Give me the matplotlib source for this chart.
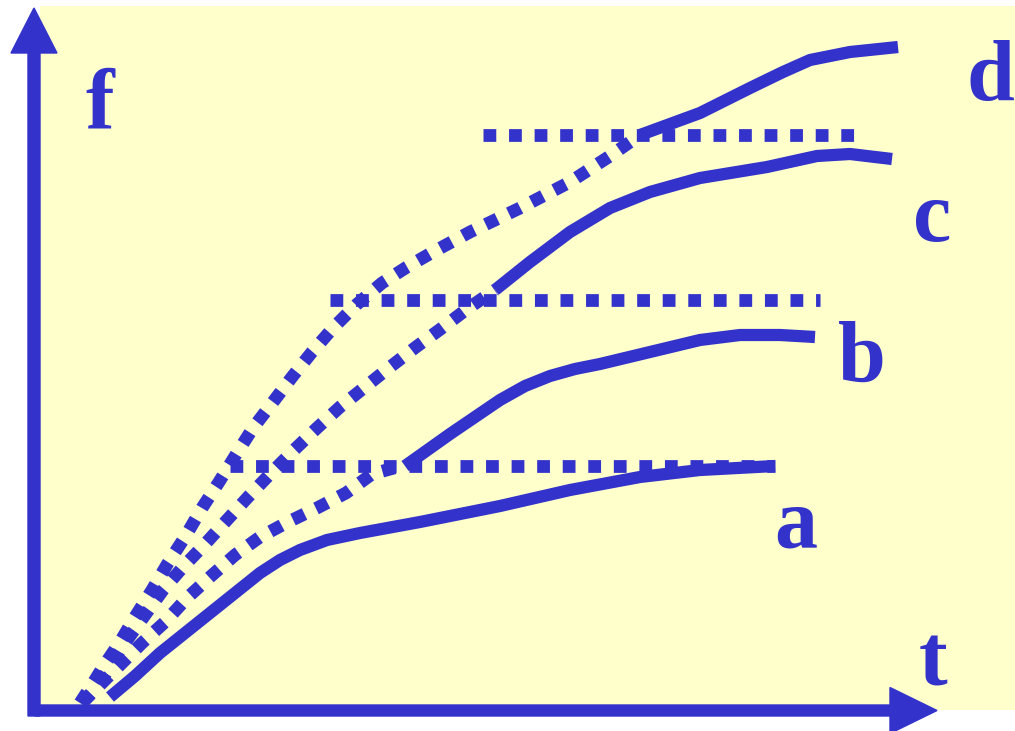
import numpy as np
import matplotlib
matplotlib.use('Agg')
import matplotlib.pyplot as plt
from matplotlib.patches import Rectangle

# colours
BLUE = '#3333CC'
YELLOW = '#FFFFCC'

# dotted rising curves (t, f), they turn into the solid curves b, c, d
rise_b_t = [0.48, 0.81, 1.08, 1.31, 1.53, 1.76, 2.01, 2.26, 2.54, 2.83, 3.12, 3.38, 3.71]
rise_b_f = [0.07, 0.40, 0.67, 0.88, 1.12, 1.33, 1.55, 1.73, 1.88, 2.02, 2.17, 2.36, 2.45]

rise_c_t = [0.48, 0.66, 0.86, 1.06, 1.29, 1.49, 1.72, 1.93, 2.15, 2.38, 2.60, 2.83, 3.06, 3.31, 3.56, 3.82, 4.08, 4.33, 4.61]
rise_c_f = [0.07, 0.27, 0.60, 0.88, 1.20, 1.43, 1.67, 1.90, 2.14, 2.38, 2.60, 2.82, 3.03, 3.23, 3.43, 3.63, 3.82, 4.01, 4.20]

rise_d_t = [0.46, 0.61, 0.69, 0.86, 1.01, 1.18, 1.34, 1.51, 1.68, 1.85, 2.03, 2.19, 2.39, 2.58, 2.78, 2.99,
            3.22, 3.48, 3.73, 3.99, 4.36, 4.86, 5.36, 5.76, 6.06]
rise_d_f = [0.07, 0.30, 0.43, 0.68, 0.93, 1.20, 1.47, 1.73, 2.02, 2.28, 2.57, 2.82, 3.08, 3.33, 3.58, 3.82,
            4.05, 4.27, 4.43, 4.58, 4.78, 5.02, 5.28, 5.54, 5.75]

# solid curves
a_t = [0.76, 1.01, 1.26, 1.51, 1.76, 2.01, 2.26, 2.46, 2.66, 2.93, 3.26, 3.86, 4.66, 5.36, 6.06, 6.66, 7.41]
a_f = [0.13, 0.34, 0.57, 0.77, 0.97, 1.17, 1.37, 1.50, 1.60, 1.70, 1.77, 1.88, 2.04, 2.20, 2.33, 2.40, 2.44]

b_t = [3.71, 4.16, 4.66, 4.91, 5.16, 5.41, 5.66, 6.16, 6.66, 7.06, 7.46, 7.81]
b_f = [2.44, 2.76, 3.10, 3.24, 3.34, 3.41, 3.46, 3.58, 3.70, 3.75, 3.75, 3.73]

c_t = [4.61, 4.96, 5.36, 5.76, 6.16, 6.66, 7.33, 7.83, 8.16, 8.58]
c_f = [4.20, 4.48, 4.78, 5.02, 5.18, 5.32, 5.43, 5.54, 5.56, 5.51]

d_t = [6.06, 6.66, 7.16, 7.49, 7.76, 8.16, 8.64]
d_f = [5.75, 5.97, 6.22, 6.38, 6.50, 6.58, 6.63]

# horizontal dotted levels
level_f = [2.44, 4.10, 5.75]
level_start = [1.96, 2.96, 4.49]
level_end = [7.41, 7.86, 8.21]

# labels
labels = ['f', 'd', 'c', 'b', 'a', 't']
label_t = [0.66, 9.56, 8.98, 8.28, 7.62, 8.99]
label_f = [5.82, 6.10, 4.69, 3.29, 1.62, 0.25]

fig = plt.figure(figsize=(10.15, 7.31), dpi=100)
ax = fig.add_axes([0, 0, 1, 1])
ax.set_xlim(-0.34, 9.81)
ax.set_ylim(-0.21, 7.10)
ax.axis('off')

# yellow panel
ax.add_patch(Rectangle((0.06, 0.0), 9.75, 7.04, facecolor=YELLOW, edgecolor='none', zorder=0))

lw_dot = 9.2
lw_solid = 8.8
dotted = dict(color=BLUE, lw=lw_dot, linestyle=(0, (1, 1)), dash_capstyle='butt', solid_capstyle='butt')
solid = dict(color=BLUE, lw=lw_solid, solid_capstyle='butt', solid_joinstyle='round')

for f, t0, t1 in zip(level_f, level_start, level_end):
    ax.plot([t0, t1], [f, f], **dotted)

ax.plot(rise_b_t, rise_b_f, **dotted)
ax.plot(rise_c_t, rise_c_f, **dotted)
ax.plot(rise_d_t, rise_d_f, **dotted)

ax.plot(a_t, a_f, **solid)
ax.plot(b_t, b_f, **solid)
ax.plot(c_t, c_f, **solid)
ax.plot(d_t, d_f, **solid)

# axes arrows
ax.arrow(0.0, -0.06, 0, 7.08, width=0.12, head_width=0.46, head_length=0.45,
         length_includes_head=True, color=BLUE, zorder=3)
ax.arrow(0.01, -0.005, 9.02, 0, width=0.11, head_width=0.46, head_length=0.47,
         length_includes_head=True, color=BLUE, zorder=3)

for s, x, y in zip(labels, label_t, label_f):
    ax.text(x, y, s, color=BLUE, fontsize=62, fontweight='bold',
            family=['Liberation Serif', 'DejaVu Serif'], ha='center', va='baseline')

fig.savefig('out.png', dpi=100, facecolor='white')
